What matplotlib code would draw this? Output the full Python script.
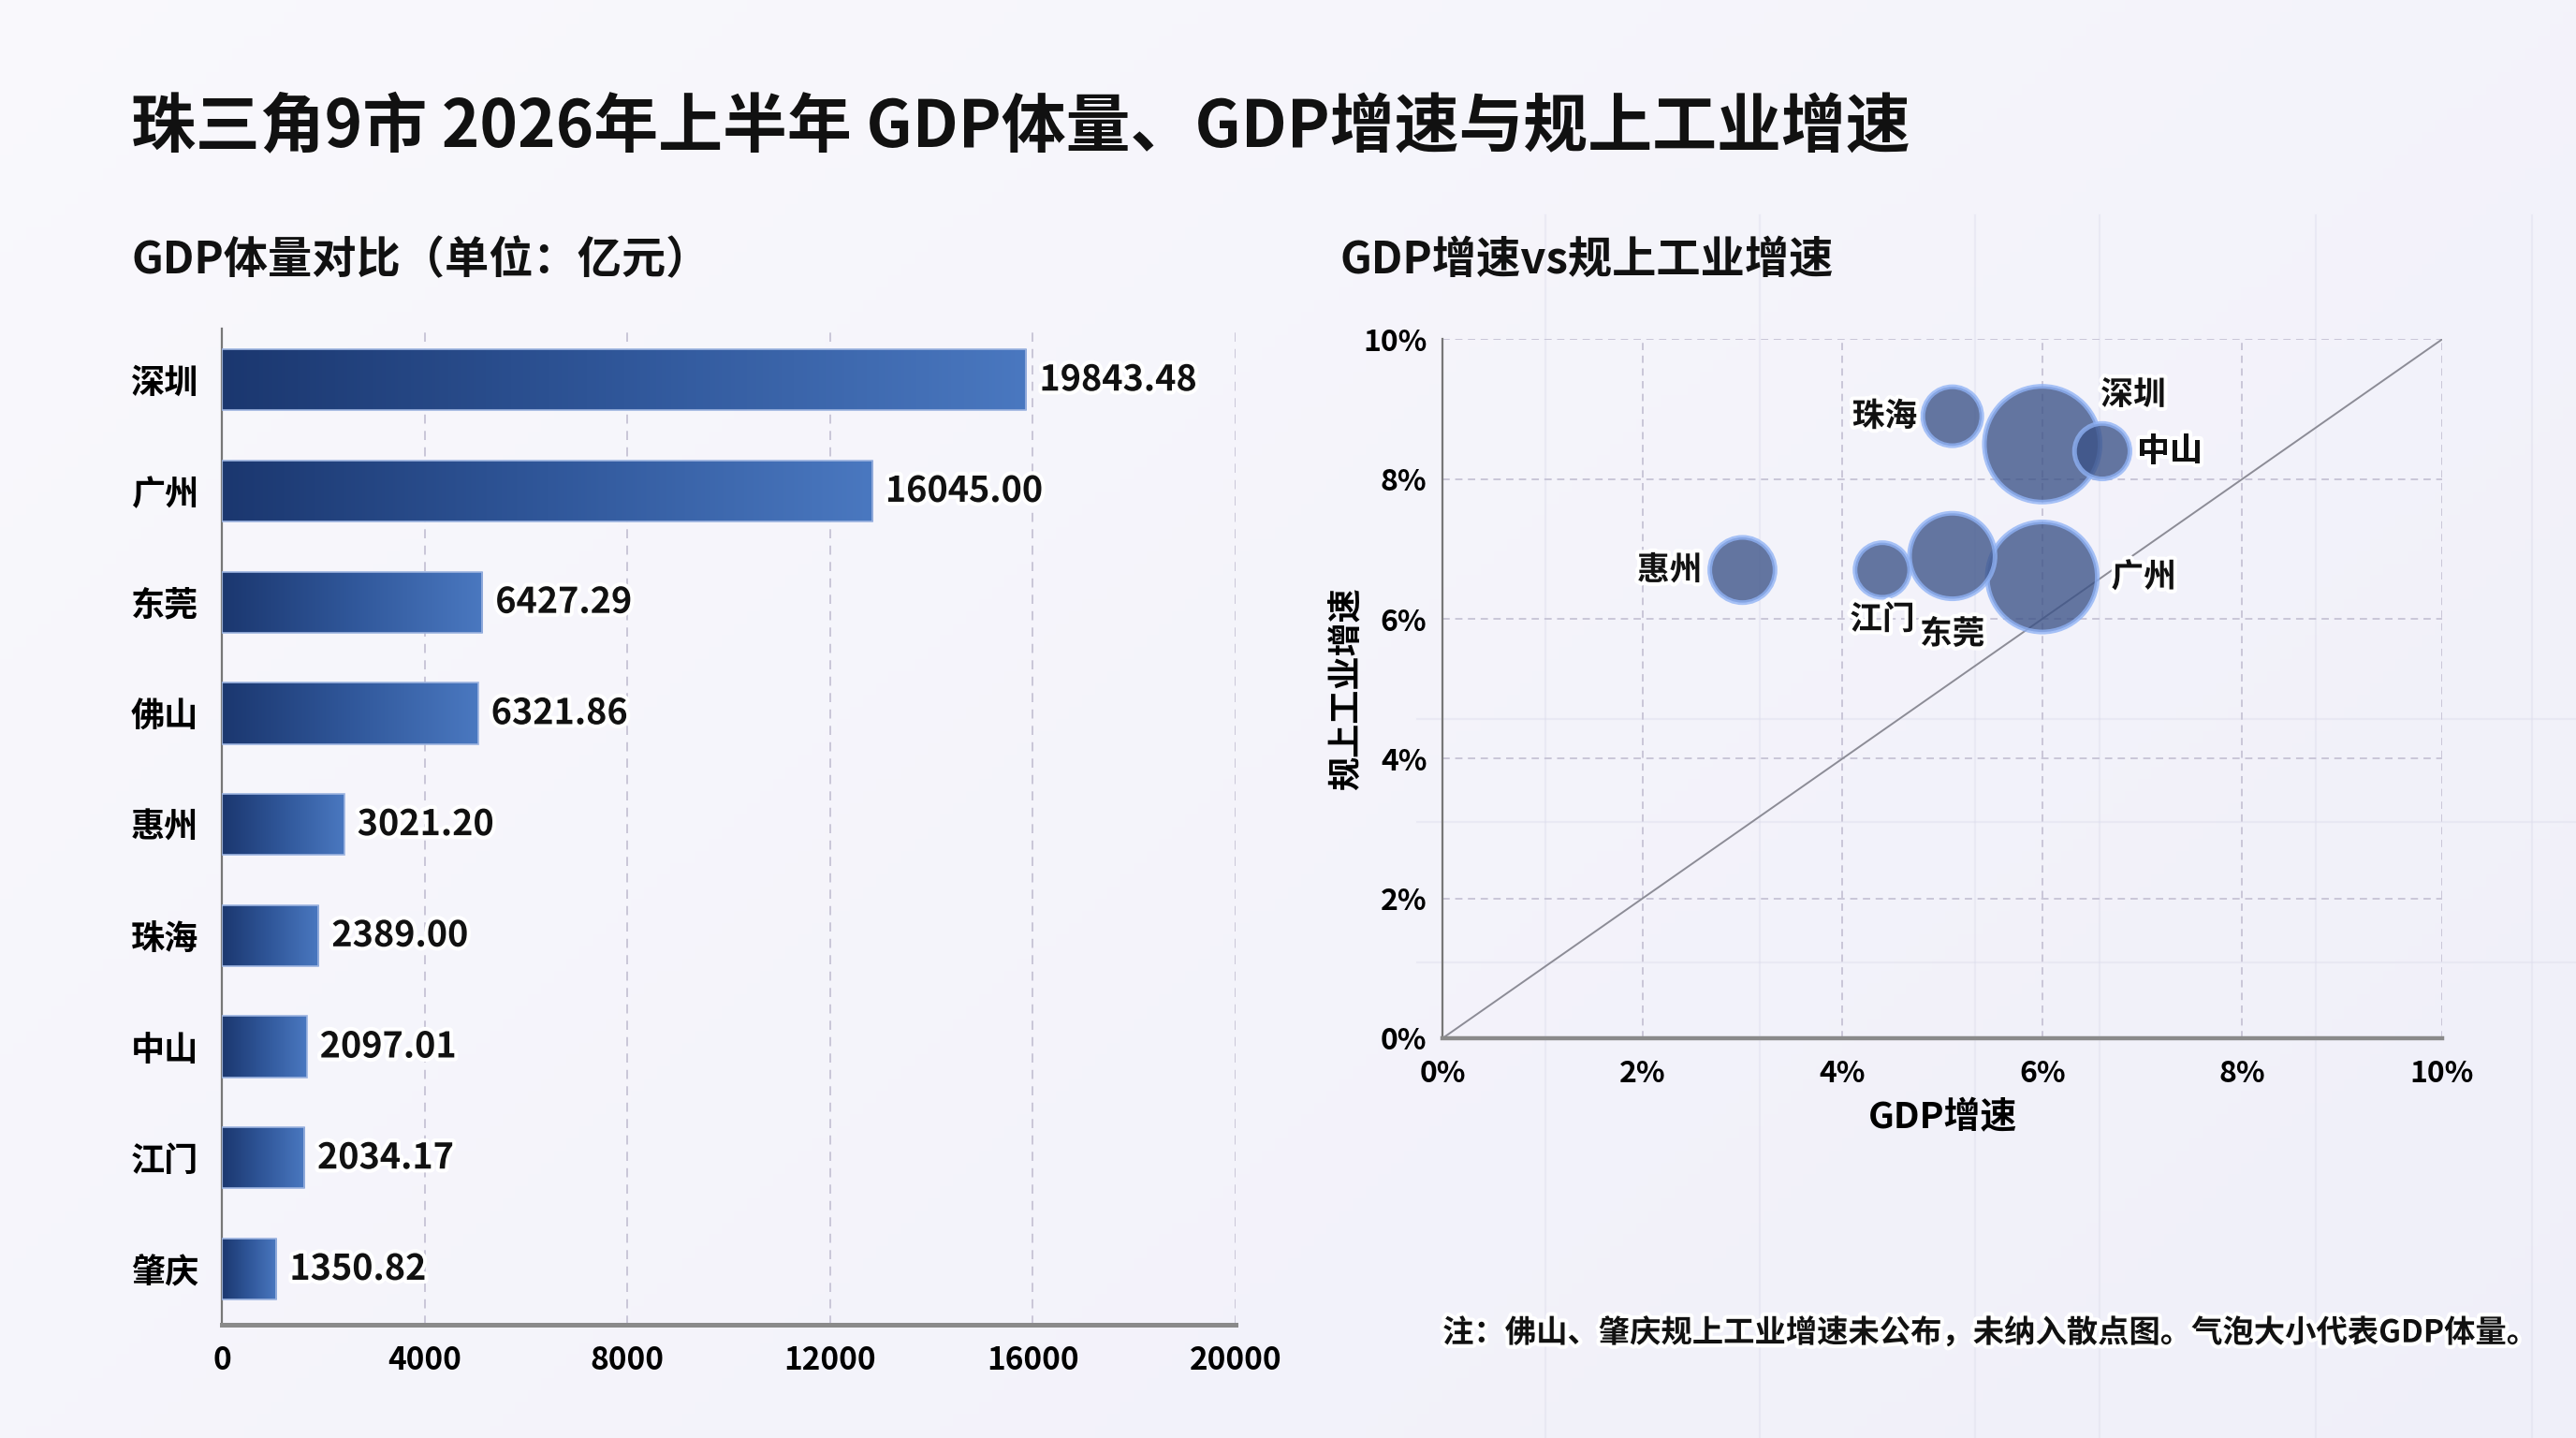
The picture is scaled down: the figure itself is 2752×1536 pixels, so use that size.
import numpy as np
import matplotlib.pyplot as plt
import matplotlib.patheffects as pe
from matplotlib.colors import LinearSegmentedColormap
from matplotlib.lines import Line2D

plt.rcParams['font.family'] = ['Noto Sans CJK SC', 'DejaVu Sans']
plt.rcParams['font.weight'] = 'bold'
plt.rcParams['axes.unicode_minus'] = False

# GDP 体量（亿元）
cities = ['深圳', '广州', '东莞', '佛山', '惠州', '珠海', '中山', '江门', '肇庆']
gdp = [19843.48, 16045.00, 6427.29, 6321.86, 3021.20, 2389.00, 2097.01, 2034.17, 1350.82]
bar_tick_labels = ['0', '4000', '8000', '12000', '16000', '20000']

# 散点图数据（佛山、肇庆无规上工业增速）
sc_cities = ['深圳', '广州', '东莞', '中山', '珠海', '惠州', '江门']
sc_gdp = [19843.48, 16045.00, 6427.29, 2097.01, 2389.00, 3021.20, 2034.17]
gdp_growth = [6.0, 6.0, 5.1, 6.6, 5.1, 3.0, 4.4]
ind_growth = [8.5, 6.6, 6.9, 8.4, 8.9, 6.7, 6.7]
pct_ticks = [0, 2, 4, 6, 8, 10]

# label offsets in points
label_off = {'深圳': (35, 19), '广州': (39, 0), '东莞': (0, -30), '中山': (26, 0),
             '珠海': (-26, 0), '惠州': (-28, 0), '江门': (0, -19)}

halo = [pe.withStroke(linewidth=3, foreground='white')]

fig = plt.figure(figsize=(13.76, 7.68), dpi=200)

# background gradient
bg = fig.add_axes([0, 0, 1, 1], zorder=-10)
bg.axis('off')
gx = np.linspace(0, 1, 200)
gy = np.linspace(0, 1, 120)
GX, GY = np.meshgrid(gx, gy)
base = np.array([0.978, 0.975, 0.99])
tint = np.array([0.935, 0.935, 0.975])
w = np.clip(0.55 * GX + 0.35 * (1 - GY), 0, 1)[..., None]
img = base * (1 - w) + tint * w
bg.imshow(img, extent=[0, 1, 0, 1], aspect='auto', origin='lower')
bg.set_xlim(0, 1)
bg.set_ylim(0, 1)
# faint background grid texture on the right
for xv in [1651, 1880, 2110, 2243, 2474, 2705]:
    fig.add_artist(Line2D([xv / 2752, xv / 2752], [0, 0.85], color='#dcdcec', lw=0.8, alpha=0.4, zorder=-5))
for yv in [768, 878, 1028]:
    fig.add_artist(Line2D([0.55, 1], [1 - yv / 1536, 1 - yv / 1536], color='#dcdcec', lw=0.8, alpha=0.4, zorder=-5))

# titles
fig.text(0.051, 0.911, '珠三角9市 2026年上半年 GDP体量、GDP增速与规上工业增速',
         fontsize=24.8, fontweight='bold', va='center', ha='left', color='#111111')
fig.text(0.051, 0.819, 'GDP体量对比（单位：亿元）', fontsize=17, fontweight='bold',
         va='center', ha='left', color='#111111')
fig.text(0.520, 0.819, 'GDP增速vs规上工业增速', fontsize=17, fontweight='bold',
         va='center', ha='left', color='#111111')

# ---------- bar chart ----------
ax1 = fig.add_axes([0.0861, 0.0789, 0.3935, 0.6925])
ax1.set_facecolor('none')
y = np.arange(len(cities))
bars = ax1.barh(y, gdp, height=0.55, color='none', edgecolor='#9db4e0', linewidth=0.6, zorder=3)
cmap = LinearSegmentedColormap.from_list('bar', ['#1b376f', '#30579a', '#4a78c0'])
grad = np.linspace(0, 1, 256).reshape(1, -1)
for b in bars:
    x0, y0 = b.get_x(), b.get_y()
    im = ax1.imshow(grad, cmap=cmap, aspect='auto', zorder=2,
                    extent=[x0, x0 + b.get_width(), y0 + b.get_height(), y0])
    im.set_clip_path(b)
for yi, v in zip(y, gdp):
    ax1.annotate(f'{v:.2f}', (v, yi), xytext=(5, 0), textcoords='offset points',
                 va='center', ha='left', fontsize=13.6, fontweight='bold',
                 color='#111111', path_effects=halo, zorder=5)

xmax = 25000
ax1.set_xlim(0, xmax)
ax1.set_ylim(len(cities) - 0.5, -0.46)
ax1.set_xticks(np.linspace(0, xmax, len(bar_tick_labels)))
ax1.set_xticklabels(bar_tick_labels)
ax1.set_yticks(y)
ax1.set_yticklabels(cities)
ax1.tick_params(axis='y', length=0, pad=9, labelsize=13)
ax1.tick_params(axis='x', length=0, pad=8, labelsize=12)
ax1.grid(axis='x', linestyle=(0, (5, 4)), color='#c9c6d8', linewidth=0.7, zorder=0)
ax1.set_axisbelow(True)
for s in ['top', 'right']:
    ax1.spines[s].set_visible(False)
ax1.spines['left'].set_color('#777777')
ax1.spines['left'].set_linewidth(0.8)
ax1.spines['bottom'].set_color('#8a8a8a')
ax1.spines['bottom'].set_linewidth(1.8)

# ---------- bubble chart ----------
ax2 = fig.add_axes([0.560, 0.278, 0.388, 0.486])
ax2.set_facecolor('none')
ax2.plot([0, 10], [0, 10], color='#8c8c96', linewidth=0.7, zorder=1)
r_px = 33 * np.log10(np.array(sc_gdp)) - 80
sizes = (2 * r_px * 72 / 200) ** 2
ax2.scatter(gdp_growth, ind_growth, s=sizes, color='#3b5287', alpha=0.78,
            edgecolors='#8fb2f5', linewidths=1.8, zorder=3)
for name, gx_, gy_ in zip(sc_cities, gdp_growth, ind_growth):
    ax2.annotate(name, (gx_, gy_), xytext=label_off[name], textcoords='offset points',
                 ha='center', va='center', fontsize=12.5, fontweight='bold',
                 color='#111111', path_effects=halo, zorder=5)

ax2.set_xlim(0, 10)
ax2.set_ylim(0, 10)
ax2.set_xticks(pct_ticks)
ax2.set_yticks(pct_ticks)
ax2.set_xticklabels([f'{t}%' for t in pct_ticks])
ax2.set_yticklabels([f'{t}%' for t in pct_ticks])
ax2.tick_params(length=0, labelsize=11.5)
ax2.tick_params(axis='x', pad=8)
ax2.tick_params(axis='y', pad=6)
ax2.grid(True, linestyle=(0, (4, 3)), color='#c9c6d8', linewidth=0.7, zorder=0)
ax2.set_axisbelow(True)
for s in ['top', 'right']:
    ax2.spines[s].set_visible(False)
ax2.spines['left'].set_color('#777777')
ax2.spines['left'].set_linewidth(0.8)
ax2.spines['bottom'].set_color('#8a8a8a')
ax2.spines['bottom'].set_linewidth(1.6)
ax2.set_xlabel('GDP增速', fontsize=14, fontweight='bold', labelpad=4)
ax2.set_ylabel('规上工业增速', fontsize=13, fontweight='bold', labelpad=0)

fig.text(0.560, 0.073, '注：佛山、肇庆规上工业增速未公布，未纳入散点图。气泡大小代表GDP体量。',
         fontsize=12, fontweight='bold', va='center', ha='left', color='#111111',
         path_effects=halo)

fig.savefig('out.png', dpi=200)
